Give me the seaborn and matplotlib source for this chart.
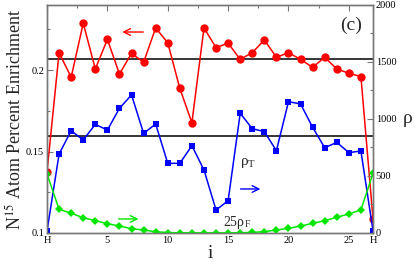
import matplotlib
matplotlib.use('Agg')
import matplotlib.pyplot as plt
import seaborn as sns
import pandas as pd
from matplotlib.ticker import MultipleLocator, FixedLocator

sns.set_theme(style='white')
plt.rcParams['font.family'] = ['Liberation Serif', 'DejaVu Serif']
plt.rcParams['mathtext.fontset'] = 'stix'

# site index along the chain (0 and 27 are the H ends)
site = list(range(28))

# N15 atom percent enrichment (left axis)
enrichment = [0.1376, 0.2107, 0.1956, 0.2288, 0.2007, 0.2189, 0.1976, 0.2103,
              0.2048, 0.2259, 0.2168, 0.1888, 0.1677, 0.2259, 0.2138, 0.2166,
              0.2066, 0.2107, 0.2185, 0.2079, 0.2107, 0.2066, 0.2017, 0.2079,
              0.2007, 0.1981, 0.1960, 0.1086]

# rho_T (right axis)
rho_t = [18, 693, 897, 816, 953, 903, 1094, 1211, 874, 956, 611, 611, 766, 553,
         202, 283, 1050, 915, 889, 722, 1152, 1132, 927, 748, 795, 705, 719, 18]

# 25 * rho_F (right axis)
rho_f25 = [518, 208, 173, 134, 108, 82, 61, 38, 26, 11, 4, 2, 1, 1,
           1, 1, 2, 5, 12, 26, 41, 61, 85, 108, 138, 167, 202, 524]

mean_enrichment = 0.2068
mean_rho_t_level = 0.1598

xtick_pos = [0, 5, 10, 15, 20, 25, 27]
xtick_labels = ['H', '5', '10', '15', '20', '25', 'H']

df = pd.DataFrame({'i': site, 'enr': enrichment, 'rt': rho_t, 'rf': rho_f25})

fig = plt.figure(figsize=(4.15, 2.62), dpi=100)
ax = fig.add_axes([0.1133, 0.1107, 0.7855, 0.8703])
ax2 = ax.twinx()

red, blue, green = '#ff0000', '#0000ff', '#00e600'
sns.lineplot(data=df, x='i', y='enr', ax=ax, color=red, marker='o',
             markersize=6, markeredgewidth=0, linewidth=1.1)
sns.lineplot(data=df, x='i', y='rt', ax=ax2, color=blue, marker='s',
             markersize=5, markeredgewidth=0, linewidth=1.1)
sns.lineplot(data=df, x='i', y='rf', ax=ax2, color=green, marker='D',
             markersize=4, markeredgewidth=0, linewidth=1.1)

ax.axhline(mean_enrichment, color='black', lw=1.1, zorder=1)
ax.axhline(mean_rho_t_level, color='black', lw=1.1, zorder=1)

ax.set_xlim(0, 27)
ax.set_ylim(0.1, 0.24)
ax2.set_ylim(0, 2000)

ax.xaxis.set_major_locator(FixedLocator(xtick_pos))
ax.set_xticklabels(xtick_labels)
ax.xaxis.set_minor_locator(MultipleLocator(2.5))
ax.yaxis.set_major_locator(FixedLocator([0.1, 0.15, 0.2]))
ax.set_yticklabels(['0.1', '0.15', '0.2'])
ax.yaxis.set_minor_locator(MultipleLocator(0.025))
ax2.yaxis.set_major_locator(MultipleLocator(500))
ax2.yaxis.set_minor_locator(MultipleLocator(250))

spine_col = '#777777'
for a in (ax, ax2):
    for s in a.spines.values():
        s.set_color(spine_col)
        s.set_linewidth(1)
    a.tick_params(which='both', direction='in', color=spine_col, width=0.8,
                  labelsize=7.5, pad=2, labelcolor='black')
    a.tick_params(which='major', length=4)
    a.tick_params(which='minor', length=2)
ax.tick_params(axis='x', which='both', top=True)

ax.set_xlabel('i', fontsize=14, labelpad=0)
ax.set_ylabel('N$^{15}$ Atom Percent Enrichment', fontsize=13, labelpad=1)
ax2.set_ylabel('ρ', fontsize=14, rotation=0, labelpad=8, va='center')

ax.annotate('', xy=(6.0, 0.2234), xytext=(8.2, 0.2234),
            arrowprops=dict(arrowstyle='->', color=red, lw=1))
ax2.annotate('', xy=(17.9, 386), xytext=(15.8, 386),
             arrowprops=dict(arrowstyle='->', color=blue, lw=1))
ax2.annotate('', xy=(7.8, 123), xytext=(5.7, 123),
             arrowprops=dict(arrowstyle='->', color=green, lw=1))

ax2.text(16.0, 610, 'ρ$_\\mathregular{T}$', fontsize=11, va='center')
ax2.text(14.6, 95, '25ρ$_\\mathregular{F}$', fontsize=10, va='center')
ax.text(24.3, 0.2275, '(c)', fontsize=14, va='center')

for a in (ax, ax2):
    a.grid(False)

fig.savefig('out.png', dpi=100)
